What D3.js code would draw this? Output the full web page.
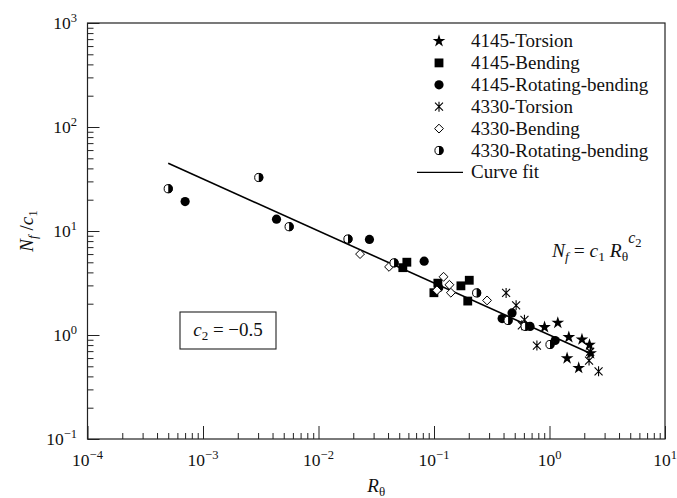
<!DOCTYPE html>
<html>
<head>
<meta charset="utf-8">
<script src="https://cdn.jsdelivr.net/npm/d3@7"></script>
<style>
  body { margin: 0; background: #fff; }
  svg { display: block; font-family: "Liberation Serif", "DejaVu Serif", serif; }
</style>
</head>
<body>
<svg id="chart" width="677" height="498"></svg>
<script>
// data: [R_theta, Nf/c1]
const torsion4145 = [[0.906,1.19],[1.18,1.31],[1.47,0.953],[1.91,0.906],[2.22,0.803],[2.27,0.667],[1.42,0.597],[1.79,0.482]]
const bending4145 = [[0.0537,4.44],[0.0582,5.01],[0.0998,2.55],[0.108,3.15],[0.171,2.97],[0.202,3.36],[0.196,2.12]]
const rotBend4145 = [[7.0e-4,19.2],[4.33e-3,13.0],[0.0276,8.3],[0.0822,5.13],[0.11,2.85],[0.389,1.44],[0.474,1.63],[0.679,1.21],[1.12,0.885]]
const torsion4330 = [[0.421,2.54],[0.514,1.93],[0.607,1.40],[0.576,1.24],[0.778,0.792],[2.25,0.69],[2.2,0.568],[2.66,0.447]]
const bending4330 = [[0.0229,6.0],[0.0408,4.52],[0.106,2.69],[0.121,3.63],[0.136,3.04],[0.140,2.55],[0.288,2.15]]
const rotBend4330 = [[5.0e-4,25.5],[3.04e-3,32.7],[5.57e-3,11.0],[0.018,8.37],[0.0451,4.94],[0.234,2.54],[0.438,1.38],[0.615,1.21],[1.01,0.81]]
const fitRange = [5e-4, 2.3]
const fitC1 = 1.0
const fitC2 = -0.5
const xMajor = [1e-4, 1e-3, 1e-2, 1e-1, 1, 10]
const xExp = ["\u22124", "\u22123", "\u22122", "\u22121", "0", "1"]
const yMajor = [1e-1, 1, 10, 100, 1000]
const yExp = ["\u22121", "0", "1", "2", "3"]
const legendLabels = ["4145-Torsion", "4145-Bending", "4145-Rotating-bending", "4330-Torsion", "4330-Bending", "4330-Rotating-bending", "Curve fit"]

const LEFT = 87.5, RIGHT = 665, TOP = 23, BOTTOM = 439

const svg = d3.select("#chart")
const x = d3.scaleLog().domain([1e-4, 10]).range([LEFT, RIGHT])
const y = d3.scaleLog().domain([0.1, 1000]).range([BOTTOM, TOP])

function minors(majors) {
  let out = []
  for (let i = 0; i < majors.length - 1; i++)
    for (let k = 2; k <= 9; k++) out.push(majors[i] * k)
  return out
}

// axes, ticks pointing in
svg.append("g").attr("transform", `translate(0,${BOTTOM})`)
  .call(d3.axisBottom(x).tickValues(xMajor).tickSize(-13).tickFormat(""))
svg.append("g").attr("transform", `translate(0,${BOTTOM})`)
  .call(d3.axisBottom(x).tickValues(minors(xMajor)).tickSize(-6).tickFormat(""))
svg.append("g").attr("transform", `translate(${LEFT},0)`)
  .call(d3.axisLeft(y).tickValues(yMajor).tickSize(-12).tickFormat(""))
svg.append("g").attr("transform", `translate(${LEFT},0)`)
  .call(d3.axisLeft(y).tickValues(minors(yMajor)).tickSize(-6).tickFormat(""))
svg.selectAll(".domain").remove()
svg.selectAll(".tick line").attr("stroke", "#222").attr("stroke-width", 1)

svg.append("rect")
  .attr("x", LEFT).attr("y", TOP)
  .attr("width", RIGHT - LEFT).attr("height", BOTTOM - TOP)
  .attr("fill", "none").attr("stroke", "#222").attr("stroke-width", 1.2)

// tick labels
xMajor.forEach((v, i) => {
  let t = svg.append("text").attr("x", x(v)).attr("y", BOTTOM + 27)
    .attr("text-anchor", "middle").attr("font-size", 17.5).attr("fill", "#111")
  t.append("tspan").text("10")
  t.append("tspan").attr("dy", -7).attr("font-size", 12.5).text(xExp[i])
})
yMajor.forEach((v, i) => {
  let t = svg.append("text").attr("x", 77).attr("y", y(v) + 6)
    .attr("text-anchor", "end").attr("font-size", 17.5).attr("fill", "#111")
  t.append("tspan").text("10")
  t.append("tspan").attr("dy", -7).attr("font-size", 12.5).text(yExp[i])
})

// axis titles
let xt = svg.append("text").attr("x", (LEFT + RIGHT) / 2).attr("y", 492)
  .attr("text-anchor", "middle").attr("font-size", 19).attr("fill", "#111")
xt.append("tspan").attr("font-style", "italic").text("R")
xt.append("tspan").attr("dy", 4).attr("font-size", 13).text("\u03b8")

let yt = svg.append("text").attr("transform", `translate(33,${(TOP + BOTTOM) / 2}) rotate(-90)`)
  .attr("text-anchor", "middle").attr("font-size", 19).attr("fill", "#111")
yt.append("tspan").attr("font-style", "italic").text("N")
yt.append("tspan").attr("font-style", "italic").attr("dy", 4).attr("font-size", 13).text("f")
yt.append("tspan").attr("dy", -4).text(" /")
yt.append("tspan").attr("font-style", "italic").text("c")
yt.append("tspan").attr("dy", 4).attr("font-size", 13).text("1")

// markers
const half = 4.6
function drawStar(g) {
  g.append("path").attr("d", d3.symbol(d3.symbolStar, 50)()).attr("fill", "#000")
}
function drawSquare(g) {
  g.append("path").attr("d", d3.symbol(d3.symbolSquare, 78)()).attr("fill", "#000")
}
function drawDot(g) {
  g.append("circle").attr("r", half).attr("fill", "#000")
}
function drawAsterisk(g) {
  const r = 5
  g.append("path")
    .attr("d", `M0,${-r}L0,${r}M${-r * 0.8},${-r * 0.8}L${r * 0.8},${r * 0.8}M${-r * 0.8},${r * 0.8}L${r * 0.8},${-r * 0.8}`)
    .attr("stroke", "#000").attr("stroke-width", 1.1).attr("fill", "none")
}
function drawDiamond(g) {
  g.append("path").attr("d", d3.symbol(d3.symbolDiamond2, 50)())
    .attr("fill", "#fff").attr("stroke", "#000").attr("stroke-width", 1)
}
function drawHalf(g) {
  g.append("circle").attr("r", half - 0.5).attr("fill", "#fff").attr("stroke", "#000").attr("stroke-width", 1)
  g.append("path").attr("d", `M0,${-half}A${half},${half} 0 0 1 0,${half}Z`).attr("fill", "#000")
}

const series = [
  [torsion4145, drawStar],
  [bending4145, drawSquare],
  [rotBend4145, drawDot],
  [torsion4330, drawAsterisk],
  [bending4330, drawDiamond],
  [rotBend4330, drawHalf]
]

// fit line
const fitPts = fitRange.map(r => [r, fitC1 * Math.pow(r, fitC2)])
svg.append("path")
  .attr("d", d3.line().x(d => x(d[0])).y(d => y(d[1]))(fitPts))
  .attr("stroke", "#000").attr("stroke-width", 1.6).attr("fill", "none")

series.forEach(([data, draw]) => {
  data.forEach(d => {
    let g = svg.append("g").attr("transform", `translate(${x(d[0])},${y(d[1])})`)
    draw(g)
  })
})

// legend
const legX = 439, legY = 41, legStep = 21.9
legendLabels.forEach((lab, i) => {
  let cy = legY + i * legStep
  if (i < 6) {
    let g = svg.append("g").attr("transform", `translate(${legX},${cy})`)
    series[i][1](g)
  } else {
    svg.append("line").attr("x1", 417).attr("x2", 463).attr("y1", cy).attr("y2", cy)
      .attr("stroke", "#000").attr("stroke-width", 1.1)
  }
  svg.append("text").attr("x", 471).attr("y", cy + 6)
    .attr("font-size", 19).attr("fill", "#111").text(lab)
})

// equation
let eq = svg.append("text").attr("x", 552).attr("y", 257).attr("font-size", 19.5).attr("fill", "#111")
eq.append("tspan").attr("font-style", "italic").text("N")
eq.append("tspan").attr("font-style", "italic").attr("dy", 4).attr("font-size", 13.5).text("f")
eq.append("tspan").attr("dy", -4).text(" = ")
eq.append("tspan").attr("font-style", "italic").text("c")
eq.append("tspan").attr("dy", 4).attr("font-size", 13.5).text("1")
eq.append("tspan").attr("dy", -4).attr("font-style", "italic").text(" R")
eq.append("tspan").attr("dy", 4).attr("font-size", 13.5).text("\u03b8")
eq.append("tspan").attr("dy", -18).attr("font-style", "italic").attr("font-size", 16).text("c")
eq.append("tspan").attr("dy", 4).attr("font-size", 12.5).text("2")

// c2 box
svg.append("rect").attr("x", 180).attr("y", 312).attr("width", 96).attr("height", 37)
  .attr("fill", "none").attr("stroke", "#222").attr("stroke-width", 1.1)
let bt = svg.append("text").attr("x", 228).attr("y", 336).attr("text-anchor", "middle")
  .attr("font-size", 19).attr("fill", "#111")
bt.append("tspan").attr("font-style", "italic").text("c")
bt.append("tspan").attr("dy", 4).attr("font-size", 13).text("2")
bt.append("tspan").attr("dy", -4).text(" = \u22120.5")
</script>
</body>
</html>
